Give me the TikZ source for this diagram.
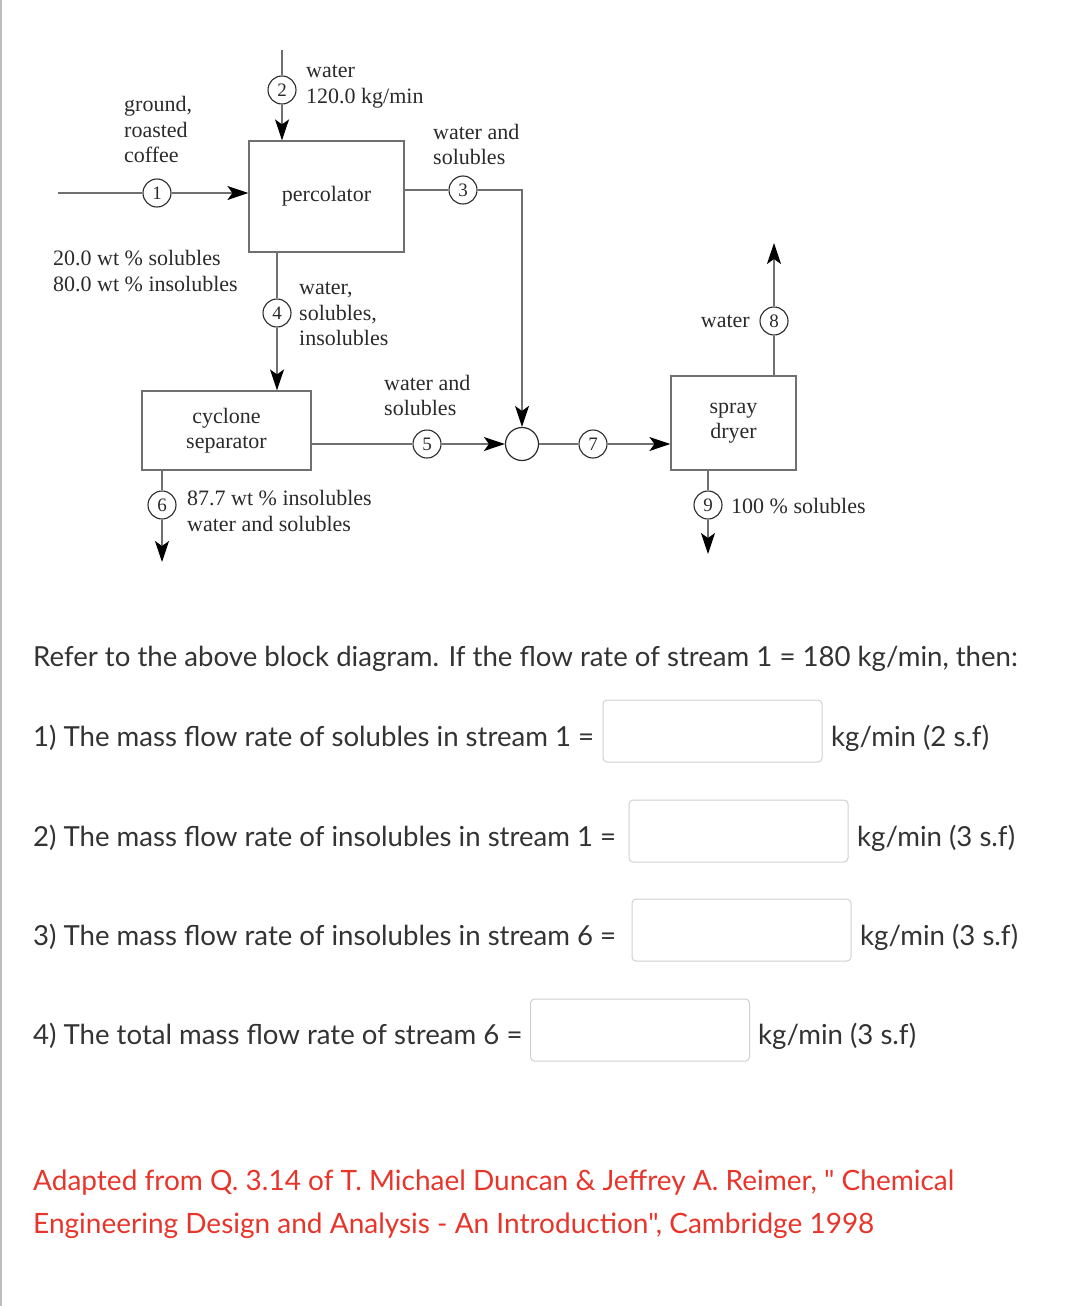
\documentclass[tikz,border=0pt]{standalone}
\usepackage{fontspec}
\setmainfont{Liberation Serif}
\newfontfamily\quizfont{Lato}
\usetikzlibrary{arrows.meta}
\definecolor{flowLine}{HTML}{707070}
\definecolor{flowInk}{HTML}{2A2A2A}
\definecolor{quizInk}{HTML}{333333}
\definecolor{quizRed}{HTML}{E8352B}
\definecolor{quizEdge}{HTML}{D0D0D0}
\definecolor{pageEdge}{HTML}{BDBDBD}

\tikzset{
  unit/.style={draw=flowLine,line width=1.2pt,inner sep=0pt,align=center,text=flowInk,
    font=\fontsize{22}{25.5}\selectfont},
  tag/.style={circle,draw=flowInk,line width=1.1pt,minimum size=28pt,inner sep=0pt,
    text=flowInk,font=\fontsize{19}{19}\selectfont},
  mixer/.style={circle,draw=flowInk,line width=1.2pt,minimum size=33pt,inner sep=0pt},
  stream/.style={draw=flowLine,line width=1.3pt},
  feed/.style={stream,-{Stealth[length=21pt,width=14pt,inset=5pt,color=black]}},
  note/.style={inner sep=0pt,anchor=west,align=left,text=flowInk,
    font=\fontsize{22}{25.5}\selectfont},
  ask/.style={inner sep=0pt,anchor=west,text=quizInk,font=\quizfont\fontsize{27.6}{30}\selectfont},
  answer/.style={draw=quizEdge,line width=1pt,rounded corners=4pt,
    minimum width=219pt,minimum height=62pt,inner sep=0pt},
}

\begin{document}
\begin{tikzpicture}[x=1pt,y=-1pt]
  \useasboundingbox (0,0) rectangle (1084,1306);
  \draw[pageEdge,line width=1.2pt] (1,0) -- (1,1306);

  % process units
  \node[unit,minimum width=155pt,minimum height=111pt] (perc) at (326.5,196.5) {percolator};
  \node[unit,minimum width=169pt,minimum height=79pt] (cyc) at (226.5,430.5) {cyclone\\separator};
  \node[unit,minimum width=125pt,minimum height=94pt] (dryer) at (733.5,423) {spray\\dryer};
  \node[mixer] (mix) at (522,444) {};

  % stream tags
  \node[tag] (c1) at (157,193) {1};
  \node[tag] (c2) at (282,90) {2};
  \node[tag] (c3) at (463,190) {3};
  \node[tag] (c4) at (277,313) {4};
  \node[tag] (c5) at (427,444) {5};
  \node[tag] (c6) at (162,505) {6};
  \node[tag] (c7) at (593,444) {7};
  \node[tag] (c8) at (774,321) {8};
  \node[tag] (c9) at (708,505) {9};

  \coordinate (in1) at (58,193);
  \coordinate (in2) at (282,50);
  \coordinate (out6) at (162,562);
  \coordinate (out8) at (774,243);
  \coordinate (out9) at (708,554);

  % streams
  \draw[stream] (in1) -- (c1);
  \draw[feed] (c1) -- (perc.west |- c1);
  \draw[stream] (in2) -- (c2);
  \draw[feed] (c2) -- (perc.north -| c2);
  \draw[stream] (perc.east |- c3) -- (c3);
  \draw[feed] (c3) -| (mix);
  \draw[stream] (perc.south -| c4) -- (c4);
  \draw[feed] (c4) -- (cyc.north -| c4);
  \draw[stream] (cyc.east |- c5) -- (c5);
  \draw[feed] (c5) -- (mix);
  \draw[stream] (cyc.south -| c6) -- (c6);
  \draw[feed] (c6) -- (out6);
  \draw[stream] (mix) -- (c7);
  \draw[feed] (c7) -- (dryer.west |- c7);
  \draw[stream] (dryer.north -| c8) -- (c8);
  \draw[feed] (c8) -- (out8);
  \draw[stream] (dryer.south -| c9) -- (c9);
  \draw[feed] (c9) -- (out9);

  % stream labels
  \node[note] (l1) at (124,129.5) {ground,\\roasted\\coffee};
  \node[note] (l2) at (306,86.5) {water\\120.0 kg/min};
  \node[note] (l3) at (433,144.5) {water and\\solubles};
  \node[note] (lfeed) at (53,271) {20.0 wt \% solubles\\80.0 wt \% insolubles};
  \node[note] (l4) at (299,314) {water,\\solubles,\\insolubles};
  \node[note] (l5) at (384,395.5) {water and\\solubles};
  \node[note] (l6) at (187,511) {87.7 wt \% insolubles\\water and solubles};
  \node[note,anchor=east] (l8) at (750,321) {water};
  \node[note] (l9) at (731,506) {100 \% solubles};

  % questions
  \node[ask] (q0) at (33,659) {Refer to the above block diagram. If the flow rate of stream 1 = 180 kg/min, then:};
  \node[ask] (q1) at (33,738) {1) The mass flow rate of solubles in stream 1 =};
  \node[answer] (a1) at (712.5,731) {};
  \node[ask] (u1) at (831,738) {kg/min (2 s.f)};
  \node[ask] (q2) at (33,838) {2) The mass flow rate of insolubles in stream 1 =};
  \node[answer] (a2) at (738.5,831) {};
  \node[ask] (u2) at (857,838) {kg/min (3 s.f)};
  \node[ask] (q3) at (33,937) {3) The mass flow rate of insolubles in stream 6 =};
  \node[answer] (a3) at (741.5,930) {};
  \node[ask] (u3) at (860,937) {kg/min (3 s.f)};
  \node[ask] (q4) at (33,1036) {4) The total mass flow rate of stream 6 =};
  \node[answer] (a4) at (640,1030) {};
  \node[ask] (u4) at (758,1036) {kg/min (3 s.f)};

  \node[ask,text=quizRed,align=left,font=\quizfont\fontsize{28}{43}\selectfont] (src) at (33,1204.5)
    {Adapted from Q. 3.14 of T. Michael Duncan \& Jeffrey A. Reimer, " Chemical\\Engineering Design and Analysis - An Introduction", Cambridge 1998};
\end{tikzpicture}
\end{document}
